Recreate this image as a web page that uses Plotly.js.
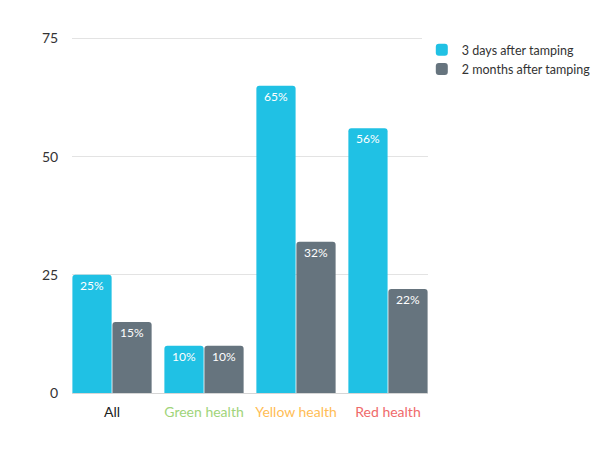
<!DOCTYPE html>
<html>
<head>
<meta charset="utf-8">
<script src="https://cdn.plot.ly/plotly-3.0.1.min.js"></script>
<style>html,body{margin:0;padding:0;background:#fff;}#chart{width:600px;height:450px;}</style>
</head>
<body>
<div id="chart"></div>
<script>
const categories = ["All", "Green health", "Yellow health", "Red health"];
const categoryColors = ["#222222", "#9fd47a", "#ffbd55", "#ef6a6a"];
const seriesNames = ["3 days after tamping", "2 months after tamping"];
const threeDays = [25, 10, 65, 56];
const twoMonths = [15, 10, 32, 22];
const yTicks = [0, 25, 50, 75];

const tickText = categories.map((c, i) => `<span style="color:${categoryColors[i]}">${c}</span>`);

function barTrace(name, values, color) {
  return {
    type: "bar",
    name: name,
    x: categories,
    y: values,
    text: values.map(v => v + "%"),
    textposition: "inside",
    insidetextanchor: "end",
    textangle: 0,
    textfont: {color: "#ffffff", size: 12, family: "Lato, sans-serif"},
    marker: {color: color, line: {width: 0}},
    hoverinfo: "none"
  };
}

const data = [
  barTrace(seriesNames[0], threeDays, "#20c1e4"),
  barTrace(seriesNames[1], twoMonths, "#66747e")
];

const layout = {
  width: 600,
  height: 450,
  margin: {l: 72, r: 172, t: 37, b: 57, autoexpand: false},
  paper_bgcolor: "#ffffff",
  plot_bgcolor: "#ffffff",
  font: {family: "Lato, sans-serif", color: "#333333", size: 14},
  barmode: "group",
  bargap: 0.13,
  bargroupgap: 0.02,
  barcornerradius: 3,
  showlegend: true,
  legend: {
    xref: "container", yref: "container",
    x: 0.703, xanchor: "left", y: 0.922, yanchor: "top",
    font: {size: 12.5, color: "#333333"},
    itemwidth: 30,
    tracegroupgap: 8
  },
  xaxis: {
    type: "category",
    range: [-0.435, 3.435],
    tickmode: "array",
    tickvals: categories,
    ticktext: tickText,
    tickfont: {size: 14},
    showgrid: false,
    showline: false,
    ticks: "outside",
    ticklen: 6,
    tickcolor: "rgba(0,0,0,0)",
    fixedrange: true
  },
  yaxis: {
    range: [0, 75.3],
    tickmode: "array",
    tickvals: yTicks,
    ticktext: yTicks.map(String),
    tickfont: {size: 14, color: "#333333"},
    showgrid: true,
    gridcolor: "#e3e3e3",
    gridwidth: 1,
    zeroline: true,
    zerolinecolor: "#d6d6d6",
    zerolinewidth: 1,
    ticks: "outside",
    ticklen: 10,
    tickcolor: "rgba(0,0,0,0)",
    showline: false,
    fixedrange: true
  }
};

Plotly.newPlot("chart", data, layout, {displayModeBar: false, staticPlot: true});
</script>
</body>
</html>
